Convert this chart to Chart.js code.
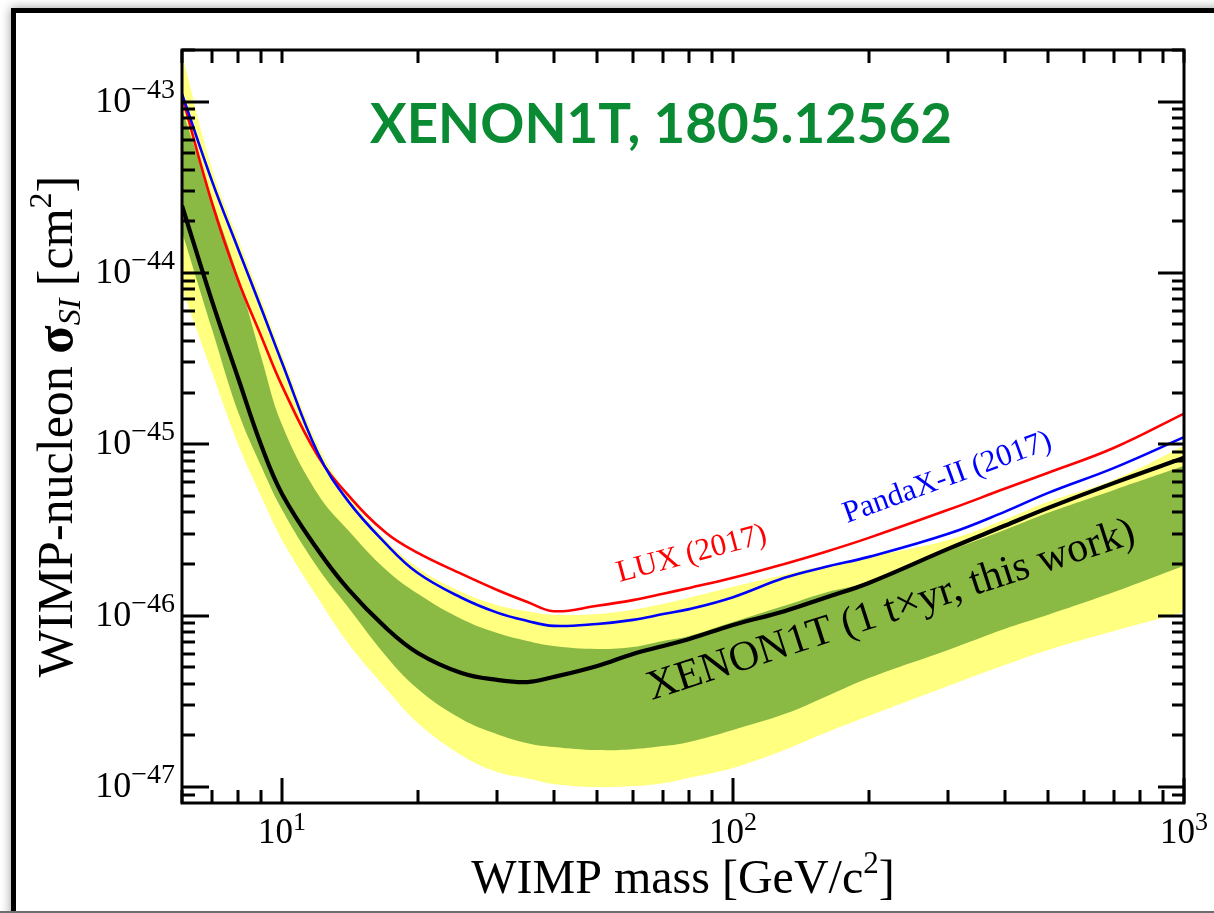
<!DOCTYPE html>
<html>
<head>
<meta charset="utf-8">
<script src="https://cdn.jsdelivr.net/npm/chart.js@4.4.0/dist/chart.umd.min.js"></script>
<style>
  html, body { margin: 0; padding: 0; background: #fff; overflow: hidden; }
  canvas { display: block; }
</style>
</head>
<body>
<canvas id="chart" width="1214" height="913"></canvas>
<script>
// WIMP mass grid [GeV/c^2]
const masses = [6, 7, 8, 9, 10, 12, 14, 17, 20, 25, 30, 35, 40, 50, 60, 70, 80, 100, 130, 160, 200, 300, 400, 500, 700, 1000];

// cross sections [cm^2]
const xenon1t = [2.47e-44, 6.79e-45, 2.41e-45, 9.79e-46, 5.13e-46, 2.42e-46, 1.43e-46, 8.47e-47, 6.05e-47, 4.62e-47, 4.21e-47, 4.09e-47, 4.38e-47, 5.08e-47, 5.97e-47, 6.64e-47, 7.30e-47, 8.81e-47, 1.06e-46, 1.27e-46, 1.55e-46, 2.45e-46, 3.34e-46, 4.25e-46, 5.95e-46, 8.33e-46];
const band1Hi = [8.98e-44, 2.68e-44, 9.38e-45, 3.20e-45, 1.30e-45, 5.13e-46, 3.16e-46, 1.85e-46, 1.34e-46, 9.55e-47, 7.91e-47, 7.11e-47, 6.64e-47, 6.38e-47, 6.56e-47, 7.11e-47, 7.60e-47, 9.17e-47, 1.14e-46, 1.36e-46, 1.57e-46, 2.38e-46, 3.16e-46, 3.98e-46, 5.41e-46, 7.48e-46];
const band1Lo = [1.74e-44, 4.66e-45, 1.53e-45, 7.38e-46, 4.14e-46, 1.90e-46, 1.12e-46, 5.81e-47, 3.73e-47, 2.49e-47, 2.03e-47, 1.80e-47, 1.71e-47, 1.64e-47, 1.66e-47, 1.73e-47, 1.83e-47, 2.15e-47, 2.66e-47, 3.35e-47, 4.32e-47, 6.30e-47, 8.35e-47, 1.01e-46, 1.37e-46, 1.95e-46];
const band2Hi = [1.88e-43, 4.01e-44, 1.56e-44, 6.97e-45, 3.33e-45, 9.92e-46, 5.06e-46, 2.76e-46, 1.90e-46, 1.37e-46, 1.15e-46, 1.06e-46, 1.01e-46, 1.02e-46, 1.08e-46, 1.17e-46, 1.27e-46, 1.47e-46, 1.73e-46, 1.95e-46, 2.20e-46, 2.76e-46, 3.62e-46, 4.61e-46, 6.20e-46, 9.79e-46];
const band2Lo = [8.08e-45, 2.61e-45, 9.92e-46, 4.93e-46, 2.76e-46, 1.27e-46, 6.92e-47, 3.75e-47, 2.36e-47, 1.53e-47, 1.22e-47, 1.12e-47, 1.04e-47, 9.97e-48, 1.01e-47, 1.05e-47, 1.13e-47, 1.29e-47, 1.64e-47, 2.06e-47, 2.59e-47, 3.88e-47, 5.14e-47, 6.30e-47, 8.13e-47, 1.05e-46];
const lux2017 = [1.08e-43, 2.54e-44, 9.00e-45, 4.24e-45, 2.19e-45, 8.55e-46, 5.06e-46, 3.04e-46, 2.32e-46, 1.75e-46, 1.41e-46, 1.20e-46, 1.06e-46, 1.14e-46, 1.23e-46, 1.34e-46, 1.45e-46, 1.66e-46, 2.00e-46, 2.35e-46, 2.84e-46, 4.14e-46, 5.49e-46, 6.81e-46, 9.53e-46, 1.51e-45];
const pandax2017 = [1.11e-43, 3.41e-44, 1.37e-44, 6.18e-45, 2.99e-45, 8.91e-46, 4.67e-46, 2.62e-46, 1.77e-46, 1.27e-46, 1.04e-46, 9.30e-47, 8.70e-47, 8.93e-47, 9.43e-47, 1.02e-46, 1.09e-46, 1.28e-46, 1.66e-46, 1.92e-46, 2.20e-46, 3.00e-46, 4.03e-46, 5.20e-46, 7.28e-46, 1.10e-45];

// tick labels
const xTicks = [10, 100, 1000];
const xTickExp = ["1", "2", "3"];
const yTicks = [1e-43, 1e-44, 1e-45, 1e-46, 1e-47];
const yTickExp = ["\u221243", "\u221244", "\u221245", "\u221246", "\u221247"];

// curve labels: [text, mass, sigma, angle deg, colour, font px]
const curveLabels = [
  ["LUX (2017)", 56, 1.57e-46, -15, "#ff0000", 31],
  ["PandaX-II (2017)", 179, 3.47e-46, -20, "#0000ff", 31],
  ["XENON1T (1 t\u00d7yr, this work)", 66, 3.21e-47, -18, "#000000", 42]
];

const YELLOW = "#ffff80";
const GREEN = "#8bba44";
const SERIF = "'Liberation Serif', 'Times New Roman', serif";

const pts = arr => masses.map((m, i) => ({ x: m, y: arr[i] }));

function richText(ctx, parts, x, y, align) {
  let w = 0;
  parts.forEach(p => { ctx.font = p[1]; w += ctx.measureText(p[0]).width; });
  let cx = align === "center" ? x - w / 2 : align === "right" ? x - w : x;
  parts.forEach(p => {
    ctx.font = p[1];
    ctx.fillText(p[0], cx, y + (p[2] || 0));
    cx += ctx.measureText(p[0]).width;
  });
}

// slide frame behind the plot
const slidePlugin = {
  id: "slidePlugin",
  beforeDraw(chart) {
    const { ctx, width, height } = chart;
    ctx.save();
    ctx.fillStyle = "#fff";
    ctx.fillRect(0, 0, width, height);
    ctx.shadowColor = "rgba(0,0,0,0.4)";
    ctx.shadowBlur = 10;
    ctx.fillStyle = "#000";
    ctx.fillRect(11, 8, width + 50, height + 50);
    ctx.shadowColor = "transparent";
    ctx.fillStyle = "#fff";
    ctx.fillRect(16, 13, width, height - 15);
    ctx.fillStyle = "#6e6e6e";
    ctx.fillRect(0, height - 2, width, 2);
    ctx.restore();
  }
};

const framePlugin = {
  id: "framePlugin",
  afterDatasetsDraw(chart) {
    const { ctx, chartArea: a, scales: { x, y } } = chart;
    ctx.save();
    ctx.strokeStyle = "#000";
    ctx.lineCap = "butt";

    // minor / major tick values
    const xv = [];
    for (let d = 1; d <= 100; d *= 10)
      for (let k = 1; k <= 9; k++) if (k * d >= 6) xv.push(k * d);
    xv.push(1000);
    const yv = [];
    for (let n = -48; n <= -43; n++)
      for (let k = 1; k <= 9; k++) {
        const v = k * Math.pow(10, n);
        if (v >= 8.05e-48 && v <= 2e-43) yv.push([v, k === 1]);
      }

    ctx.lineWidth = 3;
    ctx.beginPath();
    xv.forEach(v => {
      const px = Math.round(x.getPixelForValue(v));
      const major = xTicks.includes(v);
      ctx.moveTo(px, a.bottom); ctx.lineTo(px, a.bottom - (major ? 25 : 13));
      ctx.moveTo(px, a.top); ctx.lineTo(px, a.top + 13);
    });
    yv.forEach(([v, major]) => {
      const py = Math.round(y.getPixelForValue(v));
      ctx.moveTo(a.left, py); ctx.lineTo(a.left + (major ? 27 : 13), py);
      ctx.moveTo(a.right, py); ctx.lineTo(a.right - (major ? 26 : 12), py);
    });
    ctx.stroke();

    ctx.lineWidth = 3;
    ctx.strokeRect(a.left, a.top, a.right - a.left, a.bottom - a.top);

    // tick labels
    ctx.fillStyle = "#000";
    ctx.textBaseline = "alphabetic";
    ctx.textAlign = "left";
    yTicks.forEach((v, i) => {
      const py = y.getPixelForValue(v);
      richText(ctx, [["10", "36px " + SERIF, 10], [yTickExp[i], "28px " + SERIF, -4]], a.left - 7, py, "right");
    });
    xTicks.forEach((v, i) => {
      const px = x.getPixelForValue(v);
      richText(ctx, [["10", "35px " + SERIF, 0], [xTickExp[i], "26px " + SERIF, -13]], px, a.bottom + 40, "center");
    });

    // axis titles
    richText(ctx, [["WIMP mass [GeV/c", "48px " + SERIF], ["2", "31px " + SERIF, -20], ["]", "48px " + SERIF]],
      (a.left + a.right) / 2, 893, "center");
    ctx.save();
    ctx.translate(72, (a.top + a.bottom) / 2);
    ctx.rotate(-Math.PI / 2);
    richText(ctx, [["WIMP-nucleon ", "50px " + SERIF], ["\u03c3", "bold 52px " + SERIF],
      ["SI", "italic 32px " + SERIF, 8], [" [cm", "50px " + SERIF], ["2", "32px " + SERIF, -21],
      ["]", "50px " + SERIF]], 0, 0, "center");
    ctx.restore();

    // curve labels
    curveLabels.forEach(([t, m, s, ang, col, fs]) => {
      ctx.save();
      ctx.translate(x.getPixelForValue(m), y.getPixelForValue(s));
      ctx.rotate(ang * Math.PI / 180);
      ctx.fillStyle = col;
      ctx.font = fs + "px " + SERIF;
      ctx.fillText(t, 0, 0);
      ctx.restore();
    });

    // title
    ctx.fillStyle = "#0a8a32";
    ctx.font = "bold 54px Lato, 'Open Sans', sans-serif";
    const title = "XENON1T, 1805.12562";
    const fs = 54 * 582 / ctx.measureText(title).width;
    ctx.font = "bold " + fs.toFixed(1) + "px Lato, 'Open Sans', sans-serif";
    ctx.fillText(title, 370, 143);
    ctx.restore();
  }
};

const lineDs = (label, arr, color, width, order) => ({
  label, data: pts(arr), borderColor: color, borderWidth: width, pointRadius: 0,
  fill: false, tension: 0.4, order
});
const bandDs = (label, arr, fill, order) => ({
  label, data: pts(arr), borderWidth: 0, borderColor: "rgba(0,0,0,0)", pointRadius: 0,
  backgroundColor: fill ? (label.startsWith("2") ? YELLOW : GREEN) : "rgba(0,0,0,0)",
  fill: fill ? "+1" : false, tension: 0.4, order
});

new Chart(document.getElementById("chart"), {
  type: "line",
  data: {
    datasets: [
      bandDs("2sigma hi", band2Hi, true, 10),
      bandDs("2sigma lo", band2Lo, false, 9),
      bandDs("1sigma hi", band1Hi, true, 8),
      bandDs("1sigma lo", band1Lo, false, 7),
      lineDs("LUX (2017)", lux2017, "#ff0000", 2.6, 3),
      lineDs("PandaX-II (2017)", pandax2017, "#0000ff", 2.6, 2),
      lineDs("XENON1T", xenon1t, "#000000", 4.2, 1)
    ]
  },
  options: {
    responsive: false,
    animation: false,
    devicePixelRatio: 1,
    layout: { padding: { left: 182, top: 50, right: 30, bottom: 110 } },
    plugins: { legend: { display: false }, tooltip: { enabled: false } },
    scales: {
      x: { type: "logarithmic", min: 6, max: 1000, display: false },
      y: { type: "logarithmic", min: 8.05e-48, max: 2e-43, display: false }
    }
  },
  plugins: [slidePlugin, framePlugin]
});
</script>
</body>
</html>
